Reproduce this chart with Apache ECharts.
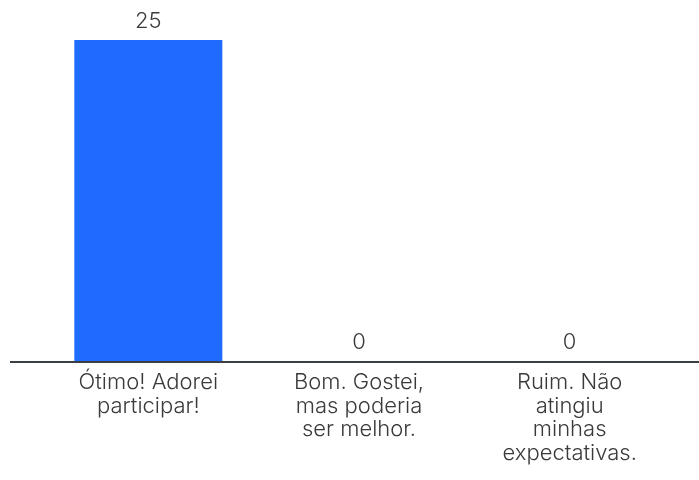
<!DOCTYPE html>
<html>
<head>
<meta charset="utf-8">
<script src="https://cdn.jsdelivr.net/npm/echarts@6/dist/echarts.min.js"></script>
<style>
  html, body { margin: 0; padding: 0; background: #fff; }
  #chart { width: 699px; height: 480px; }
</style>
</head>
<body>
<div id="chart"></div>
<script>
// Survey answers and their vote counts
const categories = [
  'Ótimo! Adorei\nparticipar!',
  'Bom. Gostei,\nmas poderia\nser melhor.',
  'Ruim. Não\natingiu\nminhas\nexpectativas.'
];
const votes = [25, 0, 0];

const FONT = 'Inter, Roboto, "Noto Sans", sans-serif';
const TEXT = '#3a3a3a';
const GRID_TOP = 40;
const GRID_BOTTOM = 119;

const chart = echarts.init(document.getElementById('chart'), null, { renderer: 'canvas' });

chart.setOption({
  animation: false,
  grid: { left: 43, right: 24, top: GRID_TOP, bottom: GRID_BOTTOM, containLabel: false },
  xAxis: {
    type: 'category',
    data: categories,
    axisLine: { show: false },
    axisTick: { show: false },
    axisLabel: {
      color: TEXT,
      fontFamily: FONT,
      fontSize: 22,
      fontWeight: 300,
      lineHeight: 23.5,
      margin: 10,
      interval: 0
    }
  },
  yAxis: {
    type: 'value',
    min: 0,
    max: 25,
    show: false,
    splitLine: { show: false }
  },
  series: [{
    type: 'bar',
    data: votes,
    barWidth: 148,
    itemStyle: { color: '#1f6bff' },
    label: {
      show: true,
      position: 'top',
      distance: 8,
      color: TEXT,
      fontFamily: FONT,
      fontSize: 22,
      fontWeight: 300
    }
  }],
  graphic: [{
    type: 'line',
    shape: { x1: 10, y1: 480 - GRID_BOTTOM + 1, x2: 699, y2: 480 - GRID_BOTTOM + 1 },
    style: { stroke: '#3a3f44', lineWidth: 2 },
    z: 10
  }]
});
</script>
</body>
</html>
